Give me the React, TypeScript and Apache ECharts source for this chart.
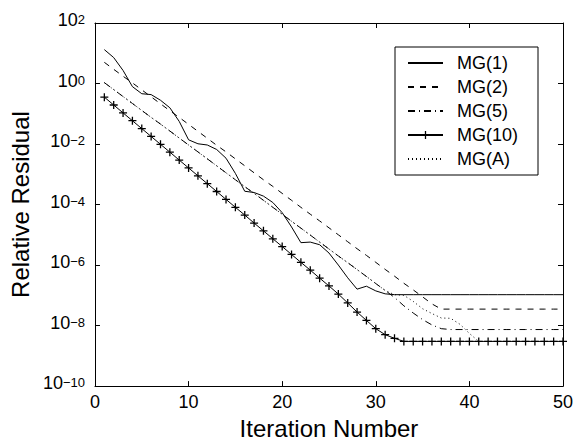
import React, { useEffect, useRef } from 'react';
import * as echarts from 'echarts';

const seriesNames = ['MG(1)', 'MG(2)', 'MG(5)', 'MG(10)', 'MG(A)'];
const xTicks = [0, 10, 20, 30, 40, 50];
const yTickExponents = [2, 0, -2, -4, -6, -8, -10];

// Relative residual per iteration (iteration 1, 2, 3, ...)
const mg1 = [
  13.2, 7.2, 2.7, 0.79, 0.46, 0.43, 0.28, 0.158, 0.056, 0.0138,
  0.0102, 9.3e-3, 6.6e-3, 3.4e-3, 1.07e-3, 2.75e-4, 2.5e-4, 1.9e-4, 1.17e-4, 5.4e-5,
  1.82e-5, 5.5e-6, 5.75e-6, 4.7e-6, 2.5e-6, 1.0e-6, 3.8e-7, 1.6e-7, 2.0e-7, 1.4e-7,
  1.12e-7, 1.05e-7, 1.05e-7, 1.05e-7, 1.05e-7, 1.05e-7, 1.05e-7, 1.05e-7, 1.05e-7, 1.05e-7,
  1.05e-7, 1.05e-7, 1.05e-7, 1.05e-7, 1.05e-7, 1.05e-7, 1.05e-7, 1.05e-7, 1.05e-7, 1.05e-7,
];
const mg2 = [
  5.01, 2.95, 1.74, 1.05, 0.617, 0.363, 0.214, 0.126, 0.0759, 0.0447,
  0.0263, 0.0155, 9.1e-3, 5.5e-3, 3.24e-3, 1.91e-3, 1.12e-3, 6.6e-4, 3.98e-4, 2.34e-4,
  1.38e-4, 8.1e-5, 4.8e-5, 2.88e-5, 1.7e-5, 1.0e-5, 5.9e-6, 3.47e-6, 2.09e-6, 1.23e-6,
  7.2e-7, 4.3e-7, 2.5e-7, 1.51e-7, 8.9e-8, 5.2e-8, 3.5e-8, 3.5e-8, 3.5e-8, 3.5e-8,
  3.5e-8, 3.5e-8, 3.5e-8, 3.5e-8, 3.5e-8, 3.5e-8, 3.5e-8, 3.5e-8, 3.5e-8, 3.5e-8,
];
const mg5 = [
  1.07, 0.631, 0.372, 0.219, 0.129, 0.0759, 0.0457, 0.0269, 0.0158, 9.3e-3,
  5.5e-3, 3.24e-3, 1.91e-3, 1.12e-3, 6.6e-4, 3.9e-4, 2.34e-4, 1.38e-4, 8.1e-5, 4.8e-5,
  2.8e-5, 1.66e-5, 9.8e-6, 5.75e-6, 3.4e-6, 2.0e-6, 1.2e-6, 7.1e-7, 4.2e-7, 2.45e-7,
  1.45e-7, 8.5e-8, 4.5e-8, 2.6e-8, 1.58e-8, 1.05e-8, 7.9e-9, 7.4e-9, 7.4e-9, 7.4e-9,
  7.4e-9, 7.4e-9, 7.4e-9, 7.4e-9, 7.4e-9, 7.4e-9, 7.4e-9, 7.4e-9, 7.4e-9, 7.4e-9,
];
const mg10 = [
  0.355, 0.195, 0.107, 0.0589, 0.0324, 0.0178, 9.8e-3, 5.4e-3, 2.95e-3, 1.62e-3,
  8.9e-4, 4.9e-4, 2.7e-4, 1.48e-4, 8.1e-5, 4.5e-5, 2.45e-5, 1.35e-5, 7.4e-6, 4.1e-6,
  2.24e-6, 1.23e-6, 6.8e-7, 3.7e-7, 2.04e-7, 1.1e-7, 5.6e-8, 2.8e-8, 1.48e-8, 7.9e-9,
  5.0e-9, 3.8e-9, 3.0e-9, 3.0e-9, 3.0e-9, 3.0e-9, 3.0e-9, 3.0e-9, 3.0e-9, 3.0e-9,
  3.0e-9, 3.0e-9, 3.0e-9, 3.0e-9, 3.0e-9, 3.0e-9, 3.0e-9, 3.0e-9, 3.0e-9, 3.0e-9,
];
const mgA = [
  1.07, 0.631, 0.372, 0.219, 0.129, 0.0759, 0.0457, 0.0269, 0.0158, 9.3e-3,
  5.5e-3, 3.24e-3, 1.91e-3, 1.12e-3, 6.6e-4, 3.9e-4, 2.34e-4, 1.38e-4, 8.1e-5, 4.8e-5,
  2.8e-5, 1.66e-5, 9.8e-6, 5.75e-6, 3.4e-6, 2.0e-6, 1.2e-6, 7.1e-7, 4.2e-7, 2.45e-7,
  1.45e-7, 1.05e-7, 1.0e-7, 6.3e-8, 3.6e-8, 2.5e-8, 1.78e-8, 1.74e-8, 1.1e-8, 5.5e-9,
  3.0e-9,
];

const FONT = '"Liberation Sans", Arial, Helvetica, sans-serif';
const PLUS = 'path://M-1,-0.16 L-0.16,-0.16 L-0.16,-1 L0.16,-1 L0.16,-0.16 L1,-0.16 L1,0.16 L0.16,0.16 L0.16,1 L-0.16,1 L-0.16,0.16 L-1,0.16 Z';

const toPairs = (arr: number[]) => arr.map((v, i) => [i + 1, v]);

const supText = (e: number) => (e < 0 ? '\u2212' + String(-e) : String(e));

export default function App() {
  const ref = useRef<HTMLDivElement>(null);
  useEffect(() => {
    if (!ref.current) return;
    const chart = echarts.init(ref.current, undefined, { renderer: 'svg' });
    const lineBase = { color: '#000', width: 1 };
    const axisCommon = {
      axisLine: { show: true, onZero: false, lineStyle: { color: '#000', width: 1 } },
      axisTick: { show: true, inside: true, length: 5, lineStyle: { color: '#000', width: 1 } },
      splitLine: { show: false },
      minorTick: { show: false },
    };
    const legendData = seriesNames.map((n, i) =>
      i === 3 ? { name: n } : { name: n, itemStyle: { opacity: 0 } }
    );
    chart.setOption({
      animation: false,
      backgroundColor: '#fff',
      textStyle: { fontFamily: FONT },
      grid: { left: 88, right: 21, top: 23, bottom: 48, containLabel: false },
      legend: {
        orient: 'vertical',
        left: 395,
        top: 47,
        backgroundColor: '#fff',
        borderColor: '#000',
        borderWidth: 1,
        borderRadius: 0,
        padding: [6, 20, 6, 12],
        itemWidth: 35,
        itemHeight: 10,
        itemGap: 4,
        data: legendData,
        textStyle: { fontFamily: FONT, fontSize: 18, color: '#000', lineHeight: 20, padding: [0, 0, 0, 9] },
      },
      xAxis: [
        {
          type: 'value', min: xTicks[0], max: xTicks[xTicks.length - 1], interval: 10,
          position: 'bottom',
          ...axisCommon,
          axisLabel: { color: '#000', fontSize: 18, fontFamily: FONT, margin: 7, formatter: (v: number) => String(v) },
          name: 'Iteration Number',
          nameLocation: 'middle',
          nameGap: 27,
          nameTextStyle: { fontSize: 24, fontFamily: FONT, color: '#000' },
        },
        {
          type: 'value', min: xTicks[0], max: xTicks[xTicks.length - 1], interval: 10,
          position: 'top',
          ...axisCommon,
          axisLabel: { show: false },
        },
      ],
      yAxis: [
        {
          type: 'log', logBase: 10, min: 1e-10, max: 1e2, interval: 2,
          position: 'left',
          ...axisCommon,
          axisLabel: {
            color: '#000', margin: 10, fontFamily: FONT,
            formatter: (v: number) => {
              const e = Math.round(Math.log10(v));
              const idx = yTickExponents.indexOf(e);
              return '{b|10}{s|' + supText(idx >= 0 ? yTickExponents[idx] : e) + '}';
            },
            rich: {
              b: { fontSize: 18, fontFamily: FONT, color: '#000', lineHeight: 20, padding: [4, 0, 4, 0], verticalAlign: 'bottom' },
              s: { fontSize: 13, fontFamily: FONT, color: '#000', lineHeight: 14, verticalAlign: 'top' },
            },
          },
          name: 'Relative Residual',
          nameLocation: 'middle',
          nameGap: 51,
          nameTextStyle: { fontSize: 24, fontFamily: FONT, color: '#000' },
        },
        {
          type: 'log', logBase: 10, min: 1e-10, max: 1e2, interval: 2,
          position: 'right',
          ...axisCommon,
          axisLabel: { show: false },
        },
      ],
      series: [
        { name: seriesNames[0], type: 'line', data: toPairs(mg1), symbol: 'none', lineStyle: { ...lineBase, type: 'solid' }, itemStyle: { color: '#000' } },
        { name: seriesNames[1], type: 'line', data: toPairs(mg2), symbol: 'none', lineStyle: { ...lineBase, type: [6, 6] }, itemStyle: { color: '#000' } },
        { name: seriesNames[2], type: 'line', data: toPairs(mg5), symbol: 'none', lineStyle: { ...lineBase, type: [7, 4, 1, 4] }, itemStyle: { color: '#000' } },
        { name: seriesNames[3], type: 'line', data: toPairs(mg10), symbol: PLUS, symbolSize: 8, showSymbol: true, lineStyle: { ...lineBase, type: 'solid' }, itemStyle: { color: '#000' } },
        { name: seriesNames[4], type: 'line', data: toPairs(mgA), symbol: 'none', lineStyle: { ...lineBase, type: [1, 3] }, itemStyle: { color: '#000' } },
      ],
    });
    return () => chart.dispose();
  }, []);
  return <div ref={ref} style={{ position: 'fixed', left: 0, top: 0, width: 584, height: 445, background: '#fff' }} />;
}
